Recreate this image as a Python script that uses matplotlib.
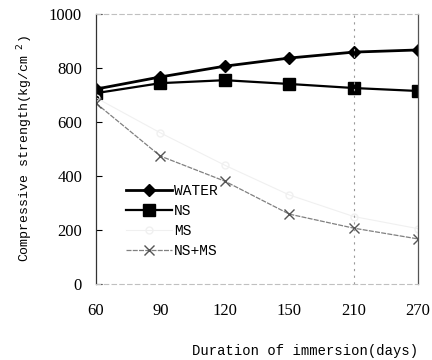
import numpy as np
import matplotlib.pyplot as plt

# immersion durations (days) and compressive strength (kg/cm2)
days = ['60', '90', '120', '150', '210', '270']
water = [722, 767, 807, 837, 859, 867]
ns = [707, 744, 755, 741, 726, 715]
ms = [690, 560, 440, 330, 250, 205]
ns_ms = [670, 474, 381, 259, 207, 167]

mono = 'Liberation Mono'
serif = 'Liberation Serif'

fig = plt.figure(figsize=(4.32, 3.6), dpi=100)
ax = fig.add_axes([0.222, 0.211, 0.746, 0.750])

x = np.arange(len(days))
ax.plot(x, water, color='black', lw=2, marker='D', ms=6.5, label='WATER')
ax.plot(x, ns, color='black', lw=1.6, marker='s', ms=8, label='NS')
ax.plot(x, ms, color='#f0f0f0', lw=0.8, marker='o', ms=5, mfc='none', label='MS')
ax.plot(x, ns_ms, color='#808080', lw=0.9, ls=(0, (4, 1)), marker='x', ms=6.5,
        mec='#555555', label='NS+MS')

ax.set_xlim(0, len(days) - 1)
ax.set_ylim(0, 1000)
ax.set_xticks(x)
ax.set_xticklabels(days, family=serif, fontsize=12)
ax.set_yticks(np.arange(0, 1001, 200))
ax.set_yticklabels([str(v) for v in range(0, 1001, 200)], family=serif, fontsize=12)
ax.tick_params(axis='x', length=0, pad=14)
ax.tick_params(axis='y', direction='in', length=4, width=0.8, pad=10)

# faint reference line at 210 days
ax.axvline(4, color='#999999', lw=0.8, ls=(0, (2, 4)))

for side in ['top', 'bottom']:
    ax.spines[side].set_color('#c0c0c0')
    ax.spines[side].set_linestyle((0, (4, 3)))
    ax.spines[side].set_linewidth(0.8)
ax.spines['left'].set_color('#333333')
ax.spines['left'].set_linewidth(0.9)
ax.spines['right'].set_color('#555555')
ax.spines['right'].set_linewidth(0.9)

ax.set_ylabel('Compressive strength(kg/cm$^{\\ \\ 2}$)', family=mono, fontsize=9.5,
              labelpad=10)
fig.text(0.968, 0.006, 'Duration of immersion(days)', family=mono, fontsize=10,
         ha='right', va='bottom')

ax.legend(loc='lower left', bbox_to_anchor=(0.07, 0.07), frameon=False,
          prop={'family': mono, 'size': 10.5}, handlelength=3.2, handletextpad=0.1,
          labelspacing=0.4, borderpad=0)

fig.savefig('out.png', dpi=100)
